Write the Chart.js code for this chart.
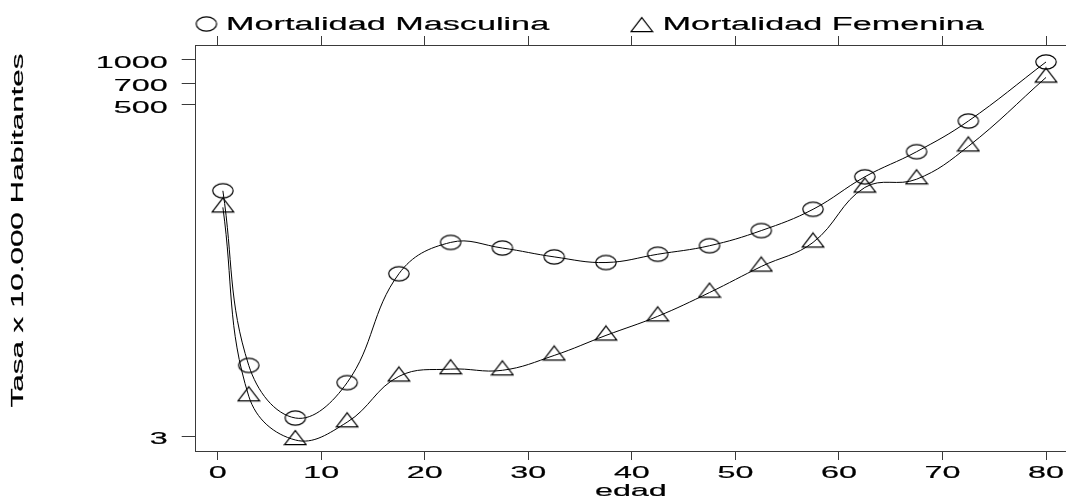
<!DOCTYPE html>
<html>
<head>
<meta charset="utf-8">
<script src="https://cdn.jsdelivr.net/npm/chart.js@4.4.0/dist/chart.umd.min.js"></script>
<style>
  html, body { margin: 0; padding: 0; background: #fff; }
  canvas { display: block; }
</style>
</head>
<body>
<canvas id="chart" width="1066" height="499"></canvas>
<script>
// Datos
const edad = [0.5, 3, 7.5, 12.5, 17.5, 22.5, 27.5, 32.5, 37.5, 42.5, 47.5, 52.5, 57.5, 62.5, 67.5, 72.5, 80];
const masculina = [133, 9.0, 4.0, 6.9, 37, 60, 55, 48, 44, 50, 57, 72, 100, 165, 243, 390, 970];
const femenina = [103, 5.6, 2.85, 3.75, 7.6, 8.5, 8.35, 10.5, 14.3, 19.2, 27.7, 41.4, 60, 140, 159, 264, 764];
const xTicks = [0, 10, 20, 30, 40, 50, 60, 70, 80];
const yTicks = [3, 500, 700, 1000];
const nombres = ['Mortalidad Masculina', 'Mortalidad Femenina'];
const tituloX = 'edad';
const tituloY = 'Tasa x 10.000 Habitantes';

const FUENTE = '"Liberation Sans", Arial, sans-serif';
const ANCHO_TEXTO = 1.9; // la letra del original es muy ancha
const EJE = '#3a3a3a';

Chart.defaults.font.family = FUENTE;
Chart.defaults.color = '#000';

// marcadores: circulo (elipse) y triangulo abiertos
function marcador(tipo) {
  const c = document.createElement('canvas');
  c.width = 24;
  c.height = tipo === 'circulo' ? 18 : 22;
  const g = c.getContext('2d');
  g.strokeStyle = '#000';
  g.lineWidth = 1.2;
  g.beginPath();
  if (tipo === 'circulo') {
    g.ellipse(12, 9, 10.2, 7.1, 0, 0, Math.PI * 2);
  } else {
    // centroide en el centro del lienzo
    g.moveTo(12, 11 - 9.4);
    g.lineTo(22.8, 11 + 4.7);
    g.lineTo(1.2, 11 + 4.7);
    g.closePath();
  }
  g.stroke();
  return c;
}
const circulo = marcador('circulo');
const triangulo = marcador('triangulo');

// estira el texto horizontalmente y lo engruesa un poco
const textoAncho = {
  id: 'textoAncho',
  beforeInit(chart) {
    const ctx = chart.ctx;
    const fill = ctx.fillText.bind(ctx);
    const stroke = ctx.strokeText.bind(ctx);
    const measure = ctx.measureText.bind(ctx);
    ctx.fillText = (text, x, y) => {
      ctx.save();
      ctx.translate(x, y);
      ctx.scale(ANCHO_TEXTO, 1);
      fill(text, 0, 0);
      ctx.strokeStyle = ctx.fillStyle;
      ctx.lineWidth = 0.2;
      stroke(text, 0, 0);
      ctx.restore();
    };
    ctx.measureText = (text) => {
      const m = measure(text);
      return { width: m.width * ANCHO_TEXTO, actualBoundingBoxAscent: m.actualBoundingBoxAscent, actualBoundingBoxDescent: m.actualBoundingBoxDescent };
    };
  }
};

// leyenda arriba y titulo del eje y
const leyenda = {
  id: 'leyenda',
  afterDraw(chart) {
    const ctx = chart.ctx;
    ctx.save();
    ctx.fillStyle = '#000';
    ctx.font = '18px ' + FUENTE;
    ctx.textAlign = 'left';
    ctx.textBaseline = 'alphabetic';
    ctx.drawImage(circulo, 206.4 - circulo.width / 2, 24 - circulo.height / 2);
    ctx.fillText(nombres[0], 226, 29.7);
    ctx.drawImage(triangulo, 641.8 - triangulo.width / 2, 27 - triangulo.height / 2);
    ctx.fillText(nombres[1], 662.6, 29.7);

    ctx.translate(18.5, 230.5);
    ctx.rotate(-Math.PI / 2);
    ctx.textAlign = 'center';
    ctx.textBaseline = 'middle';
    ctx.font = '16.5px ' + FUENTE;
    ctx.fillText(tituloY, 0, 0);
    ctx.restore();
  }
};

const serie = (ys) => edad.map((x, i) => ({ x, y: ys[i] }));
const fijarTicks = (valores) => (scale) => { scale.ticks = valores.map(v => ({ value: v })); };

new Chart(document.getElementById('chart'), {
  type: 'line',
  data: {
    datasets: [
      {
        label: nombres[0],
        data: serie(masculina),
        borderColor: '#000',
        borderWidth: 1,
        tension: 0.4,
        pointStyle: circulo,
        pointRadius: 8,
        fill: false,
      },
      {
        label: nombres[1],
        data: serie(femenina),
        borderColor: '#000',
        borderWidth: 1,
        tension: 0.4,
        pointStyle: triangulo,
        pointRadius: 8,
        fill: false,
      },
    ],
  },
  options: {
    responsive: false,
    animation: false,
    layout: { autoPadding: false, padding: { top: 36, left: 0, right: 0, bottom: 0 } },
    plugins: {
      legend: { display: false },
      tooltip: { enabled: false },
    },
    scales: {
      x: {
        type: 'linear',
        position: 'bottom',
        min: -2.125,
        max: 81.93,
        afterBuildTicks: fijarTicks(xTicks),
        afterFit: (scale) => {
          scale.height = 48;
          scale.paddingLeft = 0;
          scale.paddingRight = 0;
        },
        ticks: { font: { size: 17 }, padding: 3, color: '#000', maxRotation: 0 },
        grid: { drawOnChartArea: false, tickLength: 9, tickColor: EJE },
        border: { display: true, color: EJE, width: 1 },
        title: { display: true, text: tituloX, font: { size: 17 }, padding: { top: 0, bottom: -3 }, color: '#000' },
      },
      xArriba: {
        type: 'linear',
        axis: 'x',
        position: 'top',
        min: -2.125,
        max: 81.93,
        afterBuildTicks: fijarTicks(xTicks),
        afterFit: (scale) => {
          scale.paddingLeft = 0;
          scale.paddingRight = 0;
        },
        ticks: { display: false },
        grid: { drawOnChartArea: false, tickLength: 9, tickColor: EJE },
        border: { display: true, color: EJE, width: 1 },
      },
      y: {
        type: 'logarithmic',
        position: 'left',
        min: 2.405,
        max: 1260,
        afterBuildTicks: fijarTicks(yTicks),
        afterFit: (scale) => {
          scale.width = 195.7;
          scale.paddingTop = 0;
          scale.paddingBottom = 0;
        },
        ticks: { font: { size: 17 }, padding: 14, labelOffset: 3, color: '#000', callback: (v) => String(v) },
        grid: { drawOnChartArea: false, tickLength: 14, tickColor: EJE },
        border: { display: true, color: EJE, width: 1 },
      },
    },
  },
  plugins: [textoAncho, leyenda],
});
</script>
</body>
</html>
